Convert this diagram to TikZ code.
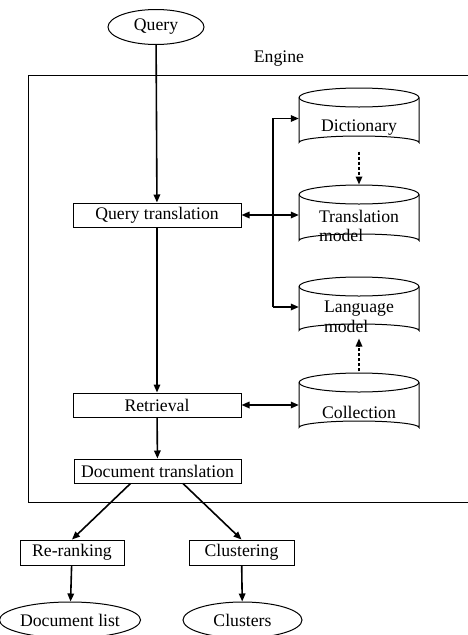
\documentclass[tikz,border=0pt]{standalone}
\usepackage{fontspec}
\setmainfont{Liberation Serif}
\usetikzlibrary{arrows.meta,shapes.geometric,calc}
\tikzset{
  every node/.style={font=\fontsize{17.7}{19.5}\selectfont},
  procbox/.style={draw,line width=1pt,rectangle,inner sep=0pt},
  termell/.style={draw,line width=1pt,ellipse,inner sep=0pt},
  arr/.style={line width=1.6pt,-{Triangle[length=8pt,width=6.5pt]}},
  darr/.style={line width=1.6pt,{Triangle[length=8pt,width=6.5pt]}-{Triangle[length=8pt,width=6.5pt]}},
  dotarr/.style={line width=1.6pt,dash pattern=on 3pt off 2pt,-{Triangle[length=8pt,width=6.5pt]}},
  cylline/.style={line width=1pt},
}
\begin{document}
\begin{tikzpicture}[x=1pt,y=-1pt]
\useasboundingbox (0,0) rectangle (468,635);
\clip (0,0) rectangle (468,635);
% engine frame
\draw[line width=1pt] (475,75) -- (28,75) -- (28,502) -- (475,502);
\node (englabel) at (279,59) {Engine};
% terminals
\node[termell,minimum width=96pt,minimum height=35pt] (query) at (156,27) {Query};
\node[termell,minimum width=120pt,minimum height=36pt] (doclist) at (70,620) {Document list};
\node[termell,minimum width=119pt,minimum height=36pt] (clusters) at (242.5,620) {Clusters};
% process boxes
\node[procbox,minimum width=168pt,minimum height=24pt] (qt) at (157,215) {Query translation};
\node[procbox,minimum width=168pt,minimum height=24pt] (ret) at (157,405) {Retrieval};
\node[procbox,minimum width=167pt,minimum height=24pt] (dt) at (157.5,471) {Document translation};
\node[procbox,minimum width=104pt,minimum height=25pt] (rr) at (72,552.5) {Re-ranking};
\node[procbox,minimum width=105pt,minimum height=25pt] (cl) at (241.5,552.5) {Clustering};
% cylinders
\draw[cylline] (299,97.5) arc[start angle=180,end angle=-180,x radius=60,y radius=9.5];
\draw[cylline] (299,97.5) -- (299,142.5) arc[start angle=180,end angle=360,x radius=60,y radius=6.5] -- (419,97.5);
\node[minimum width=120pt,minimum height=61pt,inner sep=0pt] (dict) at (359,118.5) {};
\node (dicttext) at (359,128) {Dictionary};

\draw[cylline] (299,194.5) arc[start angle=180,end angle=-180,x radius=60,y radius=9.5];
\draw[cylline] (299,194.5) -- (299,240.5) arc[start angle=180,end angle=360,x radius=60,y radius=6.5] -- (419,194.5);
\node[minimum width=120pt,minimum height=62pt,inner sep=0pt] (tm) at (359,216) {};
\node[align=left] (tmtext) at (359,226) {Translation\\model};

\draw[cylline] (299,286.5) arc[start angle=180,end angle=-180,x radius=60,y radius=9.5];
\draw[cylline] (299,286.5) -- (299,330.5) arc[start angle=180,end angle=360,x radius=60,y radius=6.5] -- (419,286.5);
\node[minimum width=120pt,minimum height=60pt,inner sep=0pt] (lm) at (359,307) {};
\node[align=left] (lmtext) at (359,317) {Language\\model};

\draw[cylline] (299,382.5) arc[start angle=180,end angle=-180,x radius=60,y radius=9.5];
\draw[cylline] (299,382.5) -- (299,427.5) arc[start angle=180,end angle=360,x radius=60,y radius=6.5] -- (419,382.5);
\node[minimum width=120pt,minimum height=61pt,inner sep=0pt] (coll) at (359,403.5) {};
\node (colltext) at (359,412) {Collection};

% connectors
\draw[arr] (query) -- (qt);
\draw[arr] (qt) -- (ret);
\draw[arr] (ret) -- (dt);
\draw[darr] (qt.east) -- (qt.east -| tm.west);
\coordinate (bx) at (273,0);
\draw[arr] (bx |- lm.west) -- (bx |- dict.west) -- (dict.west);
\draw[arr] (bx |- lm.west) -- (lm.west);
\draw[darr] (ret.east) -- (ret.east -| coll.west);
\draw[dotarr] (dict.south) ++(0,2.5) -- (359,184.5);
\draw[dotarr] (coll.north) ++(0,-1.5) -- (359,338.5);
\draw[arr] ($(dt.south)+(-27,0)$) -- (rr.north);
\draw[arr] ($(dt.south)+(25.5,0)$) -- (cl.north);
\draw[arr] (rr) -- (doclist);
\draw[arr] (cl) -- (clusters);
\end{tikzpicture}
\end{document}
